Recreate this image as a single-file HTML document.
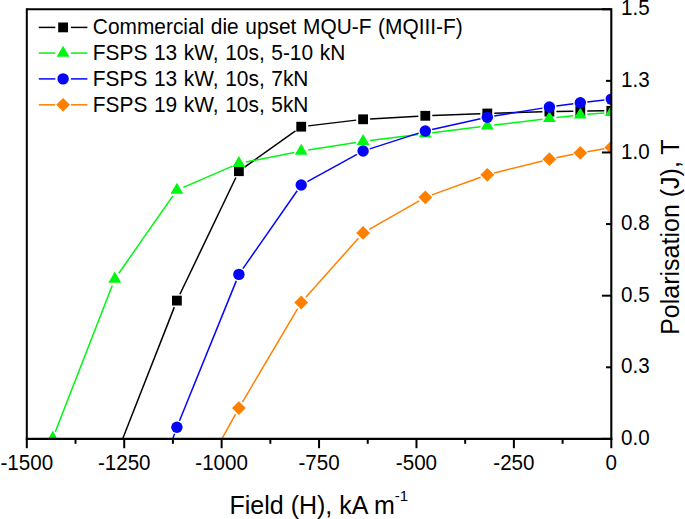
<!DOCTYPE html>
<html><head><meta charset="utf-8"><style>
html,body{margin:0;padding:0;background:#fff;width:685px;height:519px;overflow:hidden}
svg{display:block}
text{font-family:"Liberation Sans",sans-serif;fill:#000}
</style></head><body>
<svg width="685" height="519" viewBox="0 0 685 519">
<defs><clipPath id="c"><rect x="26.8" y="9.25" width="584.5" height="429.65"/></clipPath></defs>
<rect width="685" height="519" fill="#fff"/>
<g clip-path="url(#c)">
<g stroke="#000000" stroke-width="1.5" stroke-linecap="butt"><line x1="122.60" y1="438.90" x2="174.34" y2="307.12"/><line x1="179.92" y1="294.29" x2="235.88" y2="177.51"/><line x1="244.60" y1="167.13" x2="295.50" y2="130.77"/><line x1="308.15" y1="125.87" x2="356.15" y2="120.13"/><line x1="370.09" y1="118.91" x2="418.31" y2="116.19"/><line x1="432.30" y1="115.54" x2="480.30" y2="113.76"/><line x1="494.30" y1="113.29" x2="542.40" y2="111.81"/><line x1="556.40" y1="111.46" x2="573.30" y2="111.14"/><line x1="587.30" y1="110.95" x2="604.30" y2="110.85"/></g><g><rect x="172.00" y="295.70" width="9.8" height="9.8" fill="#000000"/><rect x="234.00" y="166.30" width="9.8" height="9.8" fill="#000000"/><rect x="296.30" y="121.80" width="9.8" height="9.8" fill="#000000"/><rect x="358.20" y="114.40" width="9.8" height="9.8" fill="#000000"/><rect x="420.40" y="110.90" width="9.8" height="9.8" fill="#000000"/><rect x="482.40" y="108.60" width="9.8" height="9.8" fill="#000000"/><rect x="544.50" y="106.70" width="9.8" height="9.8" fill="#000000"/><rect x="575.40" y="106.10" width="9.8" height="9.8" fill="#000000"/><rect x="606.40" y="105.90" width="9.8" height="9.8" fill="#000000"/></g><g stroke="#00f510" stroke-width="1.5" stroke-linecap="butt"><line x1="55.34" y1="431.68" x2="112.26" y2="285.52"/><line x1="118.81" y1="273.26" x2="172.89" y2="195.84"/><line x1="183.33" y1="187.33" x2="232.47" y2="166.17"/><line x1="245.77" y1="162.04" x2="294.33" y2="152.46"/><line x1="308.11" y1="150.01" x2="356.19" y2="142.39"/><line x1="370.05" y1="140.45" x2="418.35" y2="134.55"/><line x1="432.25" y1="132.83" x2="480.35" y2="126.77"/><line x1="494.25" y1="125.06" x2="542.45" y2="119.24"/><line x1="556.36" y1="117.61" x2="573.34" y2="115.69"/><line x1="587.28" y1="114.31" x2="604.32" y2="112.89"/></g><g><path d="M52.80 430.81L59.20 441.90L46.40 441.90Z" fill="#00f510"/><path d="M114.80 271.61L121.20 282.70L108.40 282.70Z" fill="#00f510"/><path d="M176.90 182.71L183.30 193.80L170.50 193.80Z" fill="#00f510"/><path d="M238.90 156.01L245.30 167.10L232.50 167.10Z" fill="#00f510"/><path d="M301.20 143.71L307.60 154.80L294.80 154.80Z" fill="#00f510"/><path d="M363.10 133.91L369.50 145.00L356.70 145.00Z" fill="#00f510"/><path d="M425.30 126.31L431.70 137.40L418.90 137.40Z" fill="#00f510"/><path d="M487.30 118.51L493.70 129.60L480.90 129.60Z" fill="#00f510"/><path d="M549.40 111.01L555.80 122.10L543.00 122.10Z" fill="#00f510"/><path d="M580.30 107.51L586.70 118.60L573.90 118.60Z" fill="#00f510"/><path d="M611.30 104.91L617.70 116.00L604.90 116.00Z" fill="#00f510"/></g><g stroke="#0505f5" stroke-width="1.5" stroke-linecap="butt"><line x1="172.70" y1="438.90" x2="174.53" y2="433.79"/><line x1="179.53" y1="420.71" x2="236.27" y2="280.89"/><line x1="242.90" y1="268.66" x2="297.20" y2="190.74"/><line x1="307.34" y1="181.63" x2="356.96" y2="154.37"/><line x1="369.76" y1="148.86" x2="418.64" y2="133.14"/><line x1="432.13" y1="129.48" x2="480.47" y2="118.72"/><line x1="494.21" y1="116.07" x2="542.49" y2="108.13"/><line x1="556.33" y1="106.04" x2="573.37" y2="103.66"/><line x1="587.25" y1="101.89" x2="604.35" y2="99.91"/></g><g><circle cx="176.90" cy="427.20" r="5.7" fill="#0505f5"/><circle cx="238.90" cy="274.40" r="5.7" fill="#0505f5"/><circle cx="301.20" cy="185.00" r="5.7" fill="#0505f5"/><circle cx="363.10" cy="151.00" r="5.7" fill="#0505f5"/><circle cx="425.30" cy="131.00" r="5.7" fill="#0505f5"/><circle cx="487.30" cy="117.20" r="5.7" fill="#0505f5"/><circle cx="549.40" cy="107.00" r="5.7" fill="#0505f5"/><circle cx="580.30" cy="102.70" r="5.7" fill="#0505f5"/><circle cx="611.30" cy="99.10" r="5.7" fill="#0505f5"/></g><g stroke="#ff8000" stroke-width="1.5" stroke-linecap="butt"><line x1="221.90" y1="438.90" x2="235.52" y2="414.23"/><line x1="242.46" y1="402.07" x2="297.64" y2="308.53"/><line x1="305.85" y1="297.27" x2="358.45" y2="238.13"/><line x1="369.18" y1="229.42" x2="419.22" y2="200.78"/><line x1="431.88" y1="194.91" x2="480.72" y2="177.19"/><line x1="494.09" y1="173.09" x2="542.61" y2="160.91"/><line x1="556.26" y1="157.80" x2="573.44" y2="154.30"/><line x1="587.20" y1="151.70" x2="604.40" y2="148.70"/></g><g><path d="M238.90 401.20L245.80 408.10L238.90 415.00L232.00 408.10Z" fill="#ff8000"/><path d="M301.20 295.60L308.10 302.50L301.20 309.40L294.30 302.50Z" fill="#ff8000"/><path d="M363.10 226.00L370.00 232.90L363.10 239.80L356.20 232.90Z" fill="#ff8000"/><path d="M425.30 190.40L432.20 197.30L425.30 204.20L418.40 197.30Z" fill="#ff8000"/><path d="M487.30 167.90L494.20 174.80L487.30 181.70L480.40 174.80Z" fill="#ff8000"/><path d="M549.40 152.30L556.30 159.20L549.40 166.10L542.50 159.20Z" fill="#ff8000"/><path d="M580.30 146.00L587.20 152.90L580.30 159.80L573.40 152.90Z" fill="#ff8000"/><path d="M611.30 140.60L618.20 147.50L611.30 154.40L604.40 147.50Z" fill="#ff8000"/></g>
</g>
<line x1="26.8" y1="9.25" x2="611.3" y2="9.25" stroke="#000" stroke-width="1.9"/><line x1="26.8" y1="8.35" x2="26.8" y2="438.9" stroke="#000" stroke-width="2"/><line x1="25.8" y1="438.9" x2="612.3" y2="438.9" stroke="#000" stroke-width="2.1"/><line x1="611.3" y1="8.25" x2="611.3" y2="439.9" stroke="#000" stroke-width="2.1"/><line x1="26.80" y1="438.9" x2="26.80" y2="448.2" stroke="#000" stroke-width="2"/><line x1="75.51" y1="438.9" x2="75.51" y2="443.79999999999995" stroke="#000" stroke-width="2"/><line x1="124.22" y1="438.9" x2="124.22" y2="448.2" stroke="#000" stroke-width="2"/><line x1="172.92" y1="438.9" x2="172.92" y2="443.79999999999995" stroke="#000" stroke-width="2"/><line x1="221.63" y1="438.9" x2="221.63" y2="448.2" stroke="#000" stroke-width="2"/><line x1="270.34" y1="438.9" x2="270.34" y2="443.79999999999995" stroke="#000" stroke-width="2"/><line x1="319.05" y1="438.9" x2="319.05" y2="448.2" stroke="#000" stroke-width="2"/><line x1="367.76" y1="438.9" x2="367.76" y2="443.79999999999995" stroke="#000" stroke-width="2"/><line x1="416.47" y1="438.9" x2="416.47" y2="448.2" stroke="#000" stroke-width="2"/><line x1="465.17" y1="438.9" x2="465.17" y2="443.79999999999995" stroke="#000" stroke-width="2"/><line x1="513.88" y1="438.9" x2="513.88" y2="448.2" stroke="#000" stroke-width="2"/><line x1="562.59" y1="438.9" x2="562.59" y2="443.79999999999995" stroke="#000" stroke-width="2"/><line x1="611.30" y1="438.9" x2="611.30" y2="448.2" stroke="#000" stroke-width="2"/><line x1="601.90" y1="438.90" x2="611.3" y2="438.90" stroke="#000" stroke-width="2"/><line x1="606.00" y1="367.29" x2="611.3" y2="367.29" stroke="#000" stroke-width="2"/><line x1="601.90" y1="295.68" x2="611.3" y2="295.68" stroke="#000" stroke-width="2"/><line x1="606.00" y1="224.08" x2="611.3" y2="224.08" stroke="#000" stroke-width="2"/><line x1="601.90" y1="152.47" x2="611.3" y2="152.47" stroke="#000" stroke-width="2"/><line x1="606.00" y1="80.86" x2="611.3" y2="80.86" stroke="#000" stroke-width="2"/><line x1="601.90" y1="9.25" x2="611.3" y2="9.25" stroke="#000" stroke-width="2"/>
<line x1="38.8" y1="27.4" x2="55.3" y2="27.4" stroke="#000000" stroke-width="1.5"/><line x1="70.9" y1="27.4" x2="87.4" y2="27.4" stroke="#000000" stroke-width="1.5"/><rect x="58.20" y="22.50" width="9.8" height="9.8" fill="#000000"/><text transform="translate(92.8,34.30) scale(1,1.065)" font-size="20.9" word-spacing="0.8">Commercial die upset MQU-F (MQIII-F)</text><line x1="38.8" y1="53.1" x2="55.3" y2="53.1" stroke="#00f510" stroke-width="1.5"/><line x1="70.9" y1="53.1" x2="87.4" y2="53.1" stroke="#00f510" stroke-width="1.5"/><path d="M63.10 45.71L69.50 56.80L56.70 56.80Z" fill="#00f510"/><text transform="translate(92.8,60.00) scale(1,1.065)" font-size="20.9" word-spacing="0.8">FSPS 13 kW, 10s, 5-10 kN</text><line x1="38.8" y1="78.9" x2="55.3" y2="78.9" stroke="#0505f5" stroke-width="1.5"/><line x1="70.9" y1="78.9" x2="87.4" y2="78.9" stroke="#0505f5" stroke-width="1.5"/><circle cx="63.10" cy="78.90" r="5.7" fill="#0505f5"/><text transform="translate(92.8,85.80) scale(1,1.065)" font-size="20.9" word-spacing="0.8">FSPS 13 kW, 10s, 7kN</text><line x1="38.8" y1="104.8" x2="55.3" y2="104.8" stroke="#ff8000" stroke-width="1.5"/><line x1="70.9" y1="104.8" x2="87.4" y2="104.8" stroke="#ff8000" stroke-width="1.5"/><path d="M63.10 97.90L70.00 104.80L63.10 111.70L56.20 104.80Z" fill="#ff8000"/><text transform="translate(92.8,111.70) scale(1,1.065)" font-size="20.9" word-spacing="0.8">FSPS 19 kW, 10s, 5kN</text>
<g font-family="Liberation Sans, sans-serif"><text transform="translate(26.80,470.0) scale(1,1.065)" text-anchor="middle" font-size="20.6">-1500</text><text transform="translate(124.22,470.0) scale(1,1.065)" text-anchor="middle" font-size="20.6">-1250</text><text transform="translate(221.63,470.0) scale(1,1.065)" text-anchor="middle" font-size="20.6">-1000</text><text transform="translate(319.05,470.0) scale(1,1.065)" text-anchor="middle" font-size="20.6">-750</text><text transform="translate(416.47,470.0) scale(1,1.065)" text-anchor="middle" font-size="20.6">-500</text><text transform="translate(513.88,470.0) scale(1,1.065)" text-anchor="middle" font-size="20.6">-250</text><text transform="translate(611.30,470.0) scale(1,1.065)" text-anchor="middle" font-size="20.6">0</text><text transform="translate(621.0,445.10) scale(1,1.065)" font-size="20.6">0.0</text><text transform="translate(621.0,373.49) scale(1,1.065)" font-size="20.6">0.3</text><text transform="translate(621.0,301.88) scale(1,1.065)" font-size="20.6">0.5</text><text transform="translate(621.0,230.28) scale(1,1.065)" font-size="20.6">0.8</text><text transform="translate(621.0,158.67) scale(1,1.065)" font-size="20.6">1.0</text><text transform="translate(621.0,87.06) scale(1,1.065)" font-size="20.6">1.3</text><text transform="translate(621.0,15.45) scale(1,1.065)" font-size="20.6">1.5</text><text x="229.5" y="514.1" font-size="25">Field (H), kA m<tspan font-size="15" dy="-13.2">-1</tspan></text><text transform="translate(679.4,334.8) rotate(-90)" x="0" y="0" font-size="25">Polarisation (J), T</text></g>
</svg>
</body></html>
